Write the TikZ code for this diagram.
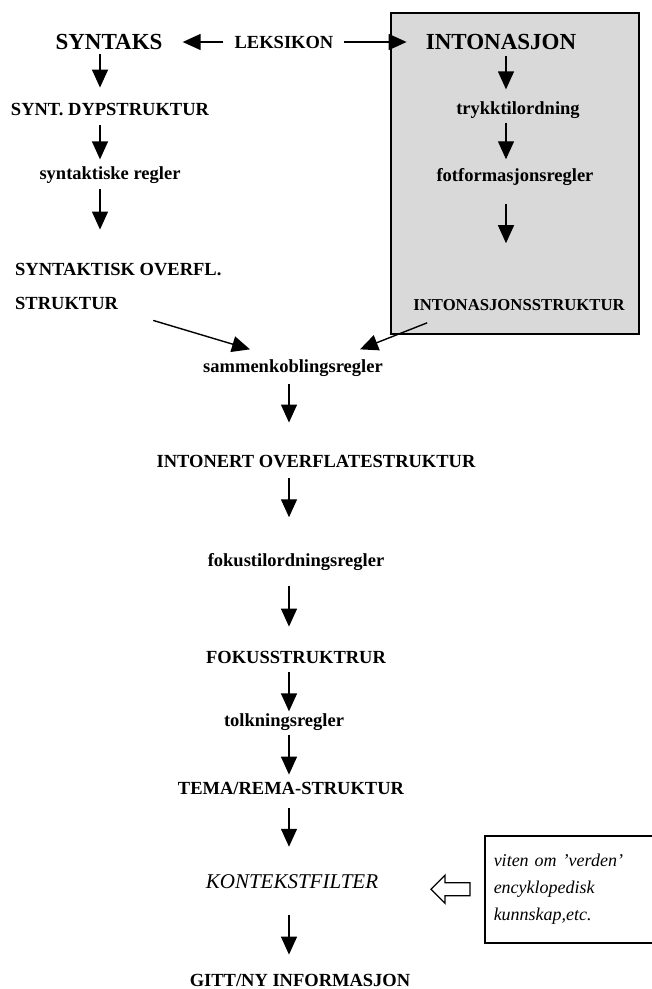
\documentclass[tikz,border=0pt]{standalone}
\usepackage{fontspec}
\setmainfont{Liberation Serif}
\usetikzlibrary{arrows.meta}

\begin{document}
\begin{tikzpicture}[x=1pt,y=-1pt]
\tikzstyle{lbl}=[font=\bfseries\fontsize{18.5}{20}\selectfont,inner sep=2pt]
\tikzstyle{big}=[font=\bfseries\fontsize{23}{25}\selectfont,inner sep=2pt]
\tikzstyle{arr}=[-{Triangle[length=18pt,width=16pt]},line width=1.4pt]
\tikzstyle{note}=[font=\itshape\fontsize{18}{27}\selectfont,align=left,inner sep=0pt]
\useasboundingbox (0,0) rectangle (652,989);
% grey box round the intonation part
\draw [fill=black!15,line width=1.8pt] (391,13) rectangle (639,334);
% columns for the vertical arrows
\coordinate (lcol) at (100,0);
\coordinate (rcol) at (506,0);
\coordinate (ccol) at (289,0);
\node [big] (syn) at (109,42) {SYNTAKS};
\node [lbl] (lek) at (284,42) {LEKSIKON};
\node [big] (ints) at (501,42) {INTONASJON};
\node [lbl] (dyp) at (110,110) {SYNT. DYPSTRUKTUR};
\node [lbl] (sreg) at (110,175) {syntaktiske regler};
\node [lbl,anchor=west] (sov) at (13,270) {SYNTAKTISK OVERFL.};
\node [lbl,anchor=west] (sstr) at (13,303) {STRUKTUR};
\node [lbl] (tryk) at (518,110) {trykktilordning};
\node [lbl] (fot) at (515,177) {fotformasjonsregler};
\node [lbl,font=\bfseries\fontsize{16.7}{18}\selectfont] (istr) at (519,305) {INTONASJONSSTRUKTUR};
\node [lbl] (samm) at (293,368) {sammenkoblingsregler};
\node [lbl] (iovs) at (316,462) {INTONERT OVERFLATESTRUKTUR};
\node [lbl] (fregl) at (296,562) {fokustilordningsregler};
\node [lbl] (fok) at (296,657) {FOKUSSTRUKTRUR};
\node [lbl] (tolk) at (284,722) {tolkningsregler};
\node [lbl] (tema) at (291,788) {TEMA/REMA-STRUKTUR};
\node [font=\itshape\fontsize{21}{24}\selectfont,inner sep=2pt] (kont) at (292,882) {KONTEKSTFILTER};
\node [lbl] (gitt) at (300,980) {GITT/NY INFORMASJON};
\node [note,draw,line width=1.5pt,anchor=north west,minimum width=167pt,minimum height=107pt,
  text width=150pt,inner xsep=9pt] (viten) at (484,835)
  {viten om 'verden'\\encyklopedisk\\kunnskap,etc.};
% top row
\draw [arr,shorten <=9pt,shorten >=18pt] (lek.west) -- (syn.east);
\draw [arr,shorten <=8pt,shorten >=17pt] (lek.east) -- (ints.west);
% left column
\draw [arr,shorten <=2pt,shorten >=14pt] (lcol |- syn.south) -- (lcol |- dyp.north);
\draw [arr,shorten <=7pt,shorten >=5pt] (lcol |- dyp.south) -- (lcol |- sreg.north);
\draw [arr,shorten <=3pt,shorten >=32pt] (lcol |- sreg.south) -- (lcol |- sov.north);
% right column
\draw [arr,shorten <=4pt,shorten >=10pt] (rcol |- ints.south) -- (rcol |- tryk.north);
\draw [arr,shorten <=2pt,shorten >=7pt] (rcol |- tryk.south) -- (rcol |- fot.north);
\draw [arr,shorten <=16pt,shorten >=54pt] (rcol |- fot.south) -- (rcol |- istr.north);
% both into the joining rules
\draw [arr] ([shift={(33,9)}]sstr.south east) -- ([shift={(-43,-8)}]samm.north);
\draw [arr] ([shift={(16,10)}]istr.south west) -- ([shift={(67,-8)}]samm.north);
% centre column
\draw [arr,shorten <=5pt,shorten >=31pt] (ccol |- samm.south) -- (ccol |- iovs.north);
\draw [arr,shorten <=8pt,shorten >=34pt] (ccol |- iovs.south) -- (ccol |- fregl.north);
\draw [arr,shorten <=13pt,shorten >=22pt] (ccol |- fregl.south) -- (ccol |- fok.north);
\draw [arr,shorten <=7pt,shorten >=0pt] (ccol |- fok.south) -- (ccol |- tolk.north);
\draw [arr,shorten <=2pt,shorten >=5pt] (ccol |- tolk.south) -- (ccol |- tema.north);
\draw [arr,shorten <=12pt,shorten >=26pt] (ccol |- tema.south) -- (ccol |- kont.north);
\draw [arr,shorten <=24pt,shorten >=17pt] (ccol |- kont.south) -- (ccol |- gitt.north);
% hollow arrow from the knowledge box
\coordinate (tip) at ([xshift=-53]viten.west);
\draw [line width=1.3pt,line join=miter] (tip) -- ++(14,-14) -- ++(0,7.5) -- ++(25,0) -- ++(0,13)
  -- ++(-25,0) -- ++(0,7.5) -- cycle;
\end{tikzpicture}
\end{document}
